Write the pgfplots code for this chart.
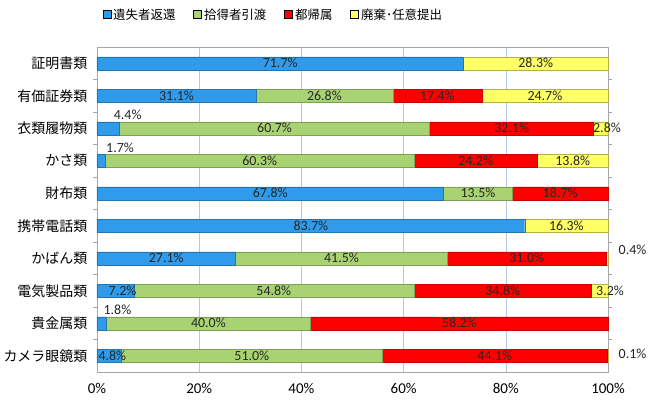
\documentclass[border=0pt]{standalone}
\usepackage{fontspec}
\setmainfont{Carlito}
\newfontfamily\jp{Noto Sans CJK JP}
\usepackage{pgfplots}
\pgfplotsset{compat=1.18}
\usepackage{pgfplotstable}
\definecolor{cblue}{HTML}{2F9BEA}
\definecolor{cgreen}{HTML}{A9D372}
\definecolor{cred}{HTML}{FF0000}
\definecolor{cyellow}{HTML}{FFFF66}
\definecolor{gridc}{HTML}{B8C8DC}
\pgfplotstableread{
idx a b c d
0 71.7 0 0 28.3
1 31.1 26.8 17.4 24.7
2 4.4 60.7 32.1 2.8
3 1.7 60.3 24.2 13.8
4 67.8 13.5 18.7 0
5 83.7 0 0 16.3
6 27.1 41.5 31.0 0.4
7 7.2 54.8 34.8 3.2
8 1.8 40.0 58.2 0
9 4.8 51.0 44.1 0.1
}\data
\newcommand\labels[1]{%
#1{35.85}{0}{71.7}{1}#1{85.85}{0}{28.3}{2}%
#1{15.55}{1}{31.1}{3}#1{44.5}{1}{26.8}{4}#1{66.6}{1}{17.4}{5}#1{87.65}{1}{24.7}{6}%
#1{6}{1.6}{4.4}{7}#1{34.75}{2}{60.7}{8}#1{81.15}{2}{32.1}{9}#1{99.8}{2}{2.8}{10}%
#1{4.5}{2.6}{1.7}{11}#1{31.85}{3}{60.3}{12}#1{74.1}{3}{24.2}{13}#1{93.1}{3}{13.8}{14}%
#1{33.9}{4}{67.8}{15}#1{74.55}{4}{13.5}{16}#1{90.65}{4}{18.7}{17}%
#1{41.85}{5}{83.7}{18}#1{91.85}{5}{16.3}{19}%
#1{13.55}{6}{27.1}{20}#1{47.85}{6}{41.5}{21}#1{84.1}{6}{31.0}{22}#1{104.8}{5.75}{0.4}{23}%
#1{5}{7}{7.2}{24}#1{34.6}{7}{54.8}{25}#1{79.4}{7}{34.8}{26}#1{100.4}{7}{3.2}{27}%
#1{4}{7.6}{1.8}{28}#1{21.8}{8}{40.0}{29}#1{70.9}{8}{58.2}{30}%
#1{3}{9}{4.8}{31}#1{30.3}{9}{51.0}{32}#1{77.85}{9}{44.1}{33}#1{104.8}{8.95}{0.1}{34}%
}
\newcommand\mkc[4]{\coordinate (L#4) at (axis cs:#1,#2);}
\newcommand\mkn[4]{\node[font=\fontsize{14}{14}\selectfont, text=black!85, inner sep=0pt] at (L#4) {#3\%};}
\begin{document}
\begin{tikzpicture}
\path[use as bounding box] (-97bp,-30bp) rectangle (553bp,372bp);
\begin{axis}[
  scale only axis, width=511bp, height=325bp,
  xbar stacked, bar width=13bp,
  xmin=0, xmax=100, ymin=-0.5, ymax=9.5, y dir=reverse,
  clip=false,
  axis line style={draw=gray!70},
  xmajorgrids, grid style={gridc, line width=0.6pt},
  xtick={0,20,...,100},
  xticklabel={\pgfmathprintnumber{\tick}\%},
  /pgf/number format/assume math mode=true,
  xtick style={draw=none},
  x tick label style={font=\fontsize{15}{15}\selectfont, yshift=-4bp},
  ytick={0,...,9},
  yticklabels={証明書類,有価証券類,衣類履物類,かさ類,財布類,携帯電話類,かばん類,電気製品類,貴金属類,カメラ眼鏡類},
  y tick label style={font=\jp\fontsize{14}{14}\selectfont, xshift=-2bp},
  major y tick style={draw=none},
  minor ytick={0.5,1.5,...,8.5},
  minor y tick style={draw=gray!70},
  minor tick length=4bp,
  tick align=outside,
  legend style={at={(0.345,1)}, anchor=south, yshift=22bp, draw=none,
    legend columns=4, font=\jp\fontsize{12.5}{13}\selectfont,
    /tikz/every even column/.append style={column sep=16bp}},
  legend image code/.code={\draw[#1,draw=black,line width=0.7pt] (0bp,-4bp) rectangle (8bp,4bp);},
]
\addplot[fill=cblue, draw=cblue!75!black, line width=0.4pt] table[x=a,y=idx]{\data};
\addplot[fill=cgreen, draw=cgreen!75!black, line width=0.4pt] table[x=b,y=idx]{\data};
\addplot[fill=cred, draw=cred!80!black, line width=0.4pt] table[x=c,y=idx]{\data};
\addplot[fill=cyellow, draw=cyellow!70!black, line width=0.4pt] table[x=d,y=idx]{\data};
\legend{遺失者返還,拾得者引渡,都帰属,廃棄･任意提出}
\labels\mkc
\end{axis}
\labels\mkn
\end{tikzpicture}
\end{document}
